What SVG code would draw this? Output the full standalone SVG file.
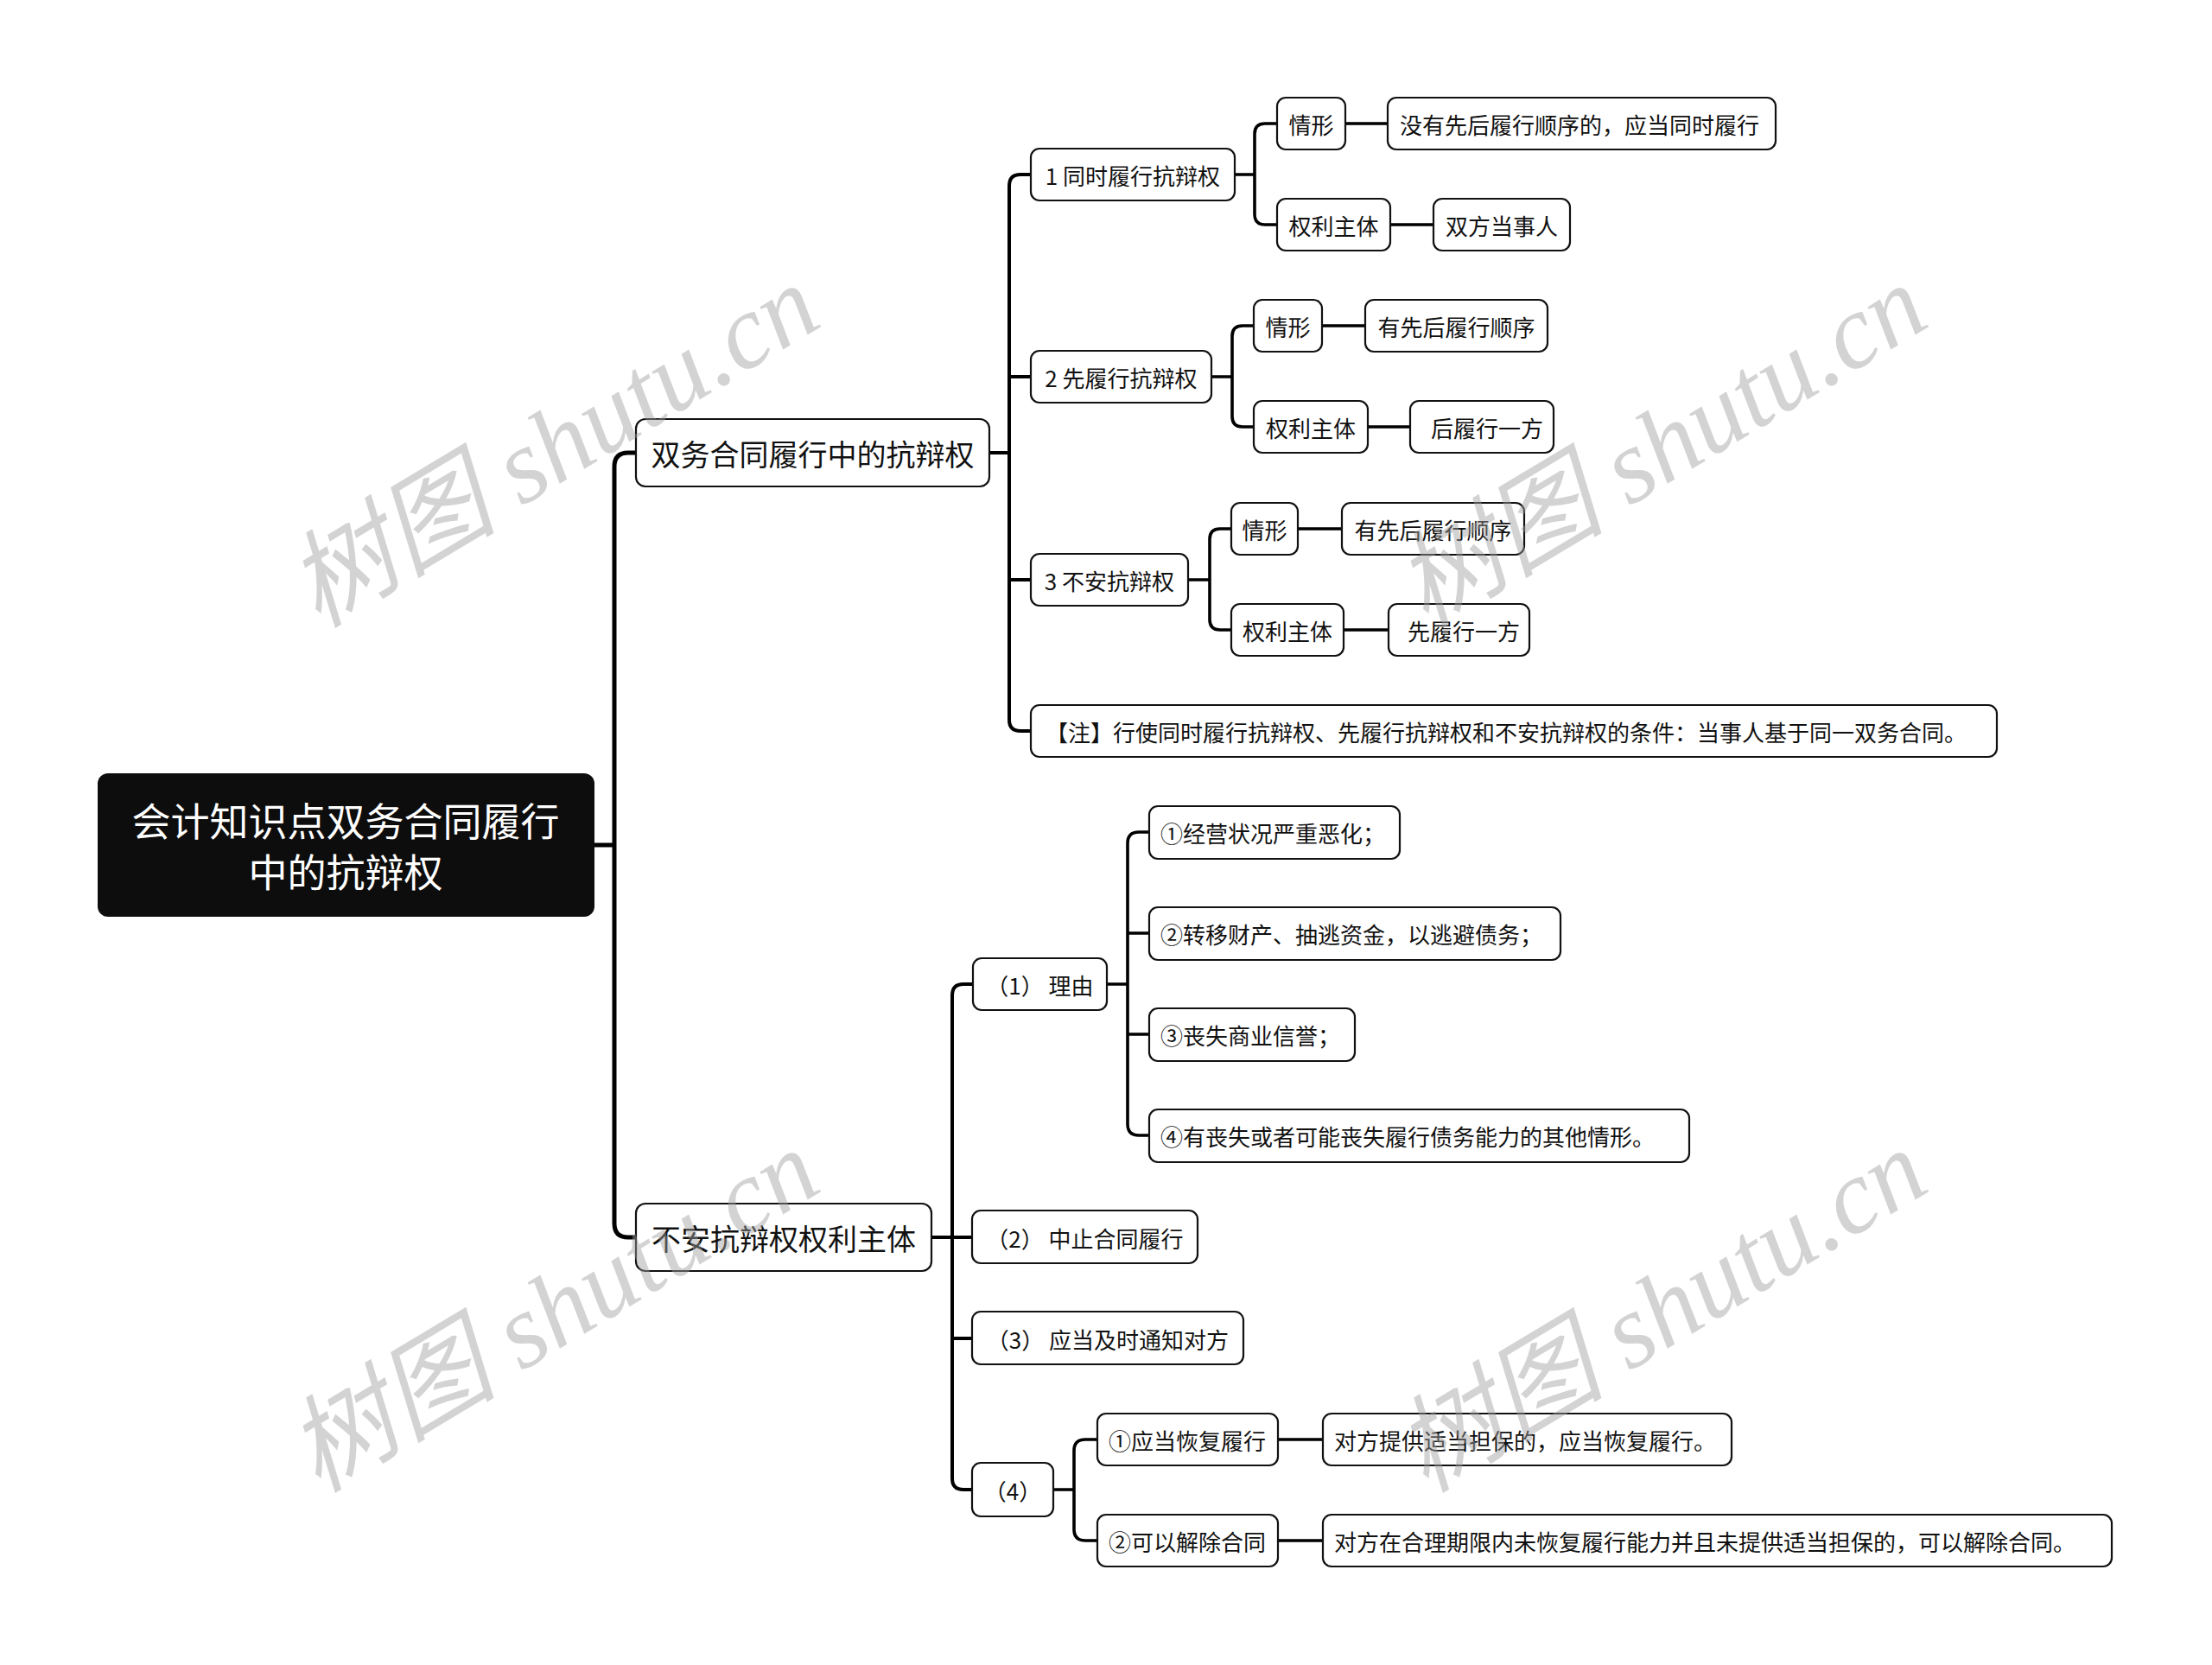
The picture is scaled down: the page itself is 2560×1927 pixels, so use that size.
<svg xmlns="http://www.w3.org/2000/svg" width="2560" height="1927" viewBox="0 0 2560 1927">
<style>
.bx{fill:#fff;stroke:#111;stroke-width:2.2}
.t{font-family:"Noto Sans CJK SC","Liberation Sans",sans-serif;fill:#111;text-anchor:middle;dominant-baseline:central}
.s{text-anchor:start}
.t1{font-size:34px}
.t2{font-size:26px}
.c{fill:none;stroke:#000;stroke-linecap:butt;stroke-linejoin:round}
.c0{stroke-width:5}
.c1{stroke-width:4}
.c2{stroke-width:3.6}
.wm{font-family:"Liberation Serif","Noto Sans CJK SC",serif;font-style:italic;font-size:122px;fill:#a0a0a0;opacity:0.45;text-anchor:middle;dominant-baseline:central}
</style>
<rect width="2560" height="1927" fill="#fff"/>
<g id="connectors">
<path class="c c0" d="M688,978 H711 M736,524 H727 Q711,524 711,540 V1416 Q711,1432 727,1432 H736"/>
<path class="c c1" d="M1145,524 H1168 M1193,202 H1181 Q1168,202 1168,215 V833 Q1168,846 1181,846 H1193 M1168,436 H1193 M1168,671 H1193"/>
<path class="c c2" d="M1429,202 H1452 M1478,143 H1464 Q1452,143 1452,155 V248 Q1452,260 1464,260 H1478 M1557,143 H1606 M1609,260 H1659"/>
<path class="c c2" d="M1402,436 H1426 M1451,377 H1438 Q1426,377 1426,389 V482 Q1426,494 1438,494 H1451 M1530,377 H1580 M1583,494 H1632"/>
<path class="c c2" d="M1375,671 H1400 M1425,612 H1412 Q1400,612 1400,624 V717 Q1400,729 1412,729 H1425 M1502,612 H1553 M1555,729 H1607"/>
<path class="c c1" d="M1078,1432 H1102 M1126,1139 H1115 Q1102,1139 1102,1152 V1711 Q1102,1724 1115,1724 H1125 M1102,1432 H1125 M1102,1549 H1125"/>
<path class="c c2" d="M1281,1139 H1305 M1330,963 H1318 Q1305,963 1305,976 V1301 Q1305,1314 1318,1314 H1330 M1305,1080 H1330 M1305,1197 H1330"/>
<path class="c c2" d="M1219,1724 H1243 M1270,1666 H1256 Q1243,1666 1243,1679 V1770 Q1243,1783 1256,1783 H1270 M1479,1666 H1531 M1479,1783 H1531"/>
</g>
<g id="root">
<rect x="113" y="895" width="575" height="166" rx="12" fill="#0d0d0d"/>
<text class="t" x="400" y="948" style="font-size:45px;fill:#fff">会计知识点双务合同履行</text>
<text class="t" x="400" y="1007" style="font-size:45px;fill:#fff">中的抗辩权</text>
</g>
<g id="nA"><rect class="bx" x="736" y="485" width="409" height="78" rx="11"/><text class="t t1" x="940.5" y="524">双务合同履行中的抗辩权</text></g>
<g id="nB"><rect class="bx" x="736" y="1393" width="342" height="78" rx="11"/><text class="t t1" x="907" y="1432">不安抗辩权权利主体</text></g>

<g id="n1"><rect class="bx" x="1193" y="172" width="236" height="60" rx="10"/><text class="t t2" x="1311" y="202">1 同时履行抗辩权</text></g>
<g id="n1a"><rect class="bx" x="1478" y="113" width="79" height="60" rx="10"/><text class="t t2" x="1517.5" y="143">情形</text></g>
<g id="n1a1"><rect class="bx" x="1606" y="113" width="449" height="60" rx="10"/><text class="t t2 s" x="1620" y="143">没有先后履行顺序的，应当同时履行</text></g>
<g id="n1b"><rect class="bx" x="1478" y="230" width="131" height="60" rx="10"/><text class="t t2" x="1543.5" y="260">权利主体</text></g>
<g id="n1b1"><rect class="bx" x="1659" y="230" width="158" height="60" rx="10"/><text class="t t2" x="1738" y="260">双方当事人</text></g>

<g id="n2"><rect class="bx" x="1193" y="406" width="209" height="60" rx="10"/><text class="t t2" x="1297.5" y="436">2 先履行抗辩权</text></g>
<g id="n2a"><rect class="bx" x="1451" y="347" width="79" height="60" rx="10"/><text class="t t2" x="1490.5" y="377">情形</text></g>
<g id="n2a1"><rect class="bx" x="1580" y="347" width="211" height="60" rx="10"/><text class="t t2" x="1685.5" y="377">有先后履行顺序</text></g>
<g id="n2b"><rect class="bx" x="1451" y="464" width="132" height="60" rx="10"/><text class="t t2" x="1517" y="494">权利主体</text></g>
<g id="n2b1"><rect class="bx" x="1632" y="464" width="166" height="60" rx="10"/><text class="t t2" x="1721" y="494">后履行一方</text></g>

<g id="n3"><rect class="bx" x="1193" y="641" width="182" height="60" rx="10"/><text class="t t2" x="1284" y="671">3 不安抗辩权</text></g>
<g id="n3a"><rect class="bx" x="1425" y="582" width="77" height="60" rx="10"/><text class="t t2" x="1463.5" y="612">情形</text></g>
<g id="n3a1"><rect class="bx" x="1553" y="582" width="211" height="60" rx="10"/><text class="t t2" x="1658.5" y="612">有先后履行顺序</text></g>
<g id="n3b"><rect class="bx" x="1425" y="699" width="130" height="60" rx="10"/><text class="t t2" x="1490" y="729">权利主体</text></g>
<g id="n3b1"><rect class="bx" x="1607" y="699" width="163" height="60" rx="10"/><text class="t t2" x="1694" y="729">先履行一方</text></g>

<g id="n4"><rect class="bx" x="1193" y="816" width="1118" height="60" rx="10"/><text class="t t2" x="1743" y="846">【注】行使同时履行抗辩权、先履行抗辩权和不安抗辩权的条件：当事人基于同一双务合同。</text></g>

<g id="m1"><rect class="bx" x="1126" y="1109" width="155" height="60" rx="10"/><text class="t t2" x="1203.5" y="1139">（1） 理由</text></g>
<g id="m1a"><rect class="bx" x="1330" y="933" width="290" height="61" rx="10"/><text class="t t2 s" x="1343" y="963">①经营状况严重恶化；</text></g>
<g id="m1b"><rect class="bx" x="1330" y="1050" width="476" height="61" rx="10"/><text class="t t2 s" x="1343" y="1080">②转移财产、抽逃资金，以逃避债务；</text></g>
<g id="m1c"><rect class="bx" x="1330" y="1167" width="238" height="61" rx="10"/><text class="t t2 s" x="1343" y="1197">③丧失商业信誉；</text></g>
<g id="m1d"><rect class="bx" x="1330" y="1284" width="625" height="61" rx="10"/><text class="t t2 s" x="1343" y="1314">④有丧失或者可能丧失履行债务能力的其他情形。</text></g>
<g id="m2"><rect class="bx" x="1125" y="1401" width="261" height="61" rx="10"/><text class="t t2" x="1255.5" y="1432">（2） 中止合同履行</text></g>
<g id="m3"><rect class="bx" x="1125" y="1518" width="314" height="61" rx="10"/><text class="t t2" x="1282" y="1549">（3） 应当及时通知对方</text></g>
<g id="m4"><rect class="bx" x="1125" y="1693" width="94" height="62" rx="10"/><text class="t t2" x="1172" y="1724">（4）</text></g>
<g id="m4a"><rect class="bx" x="1270" y="1636" width="209" height="60" rx="10"/><text class="t t2 s" x="1283" y="1666">①应当恢复履行</text></g>
<g id="m4a1"><rect class="bx" x="1531" y="1636" width="473" height="60" rx="10"/><text class="t t2 s" x="1544" y="1666">对方提供适当担保的，应当恢复履行。</text></g>
<g id="m4b"><rect class="bx" x="1270" y="1753" width="209" height="60" rx="10"/><text class="t t2 s" x="1283" y="1783">②可以解除合同</text></g>
<g id="m4b1"><rect class="bx" x="1531" y="1753" width="913" height="60" rx="10"/><text class="t t2 s" x="1544" y="1783">对方在合理期限内未恢复履行能力并且未提供适当担保的，可以解除合同。</text></g>

<g id="watermarks">
<text class="wm" transform="translate(640,516) rotate(-31)">树图 shutu.cn</text>
<text class="wm" transform="translate(1922,516) rotate(-31)">树图 shutu.cn</text>
<text class="wm" transform="translate(640,1517) rotate(-31)">树图 shutu.cn</text>
<text class="wm" transform="translate(1922,1517) rotate(-31)">树图 shutu.cn</text>
</g>
</svg>
